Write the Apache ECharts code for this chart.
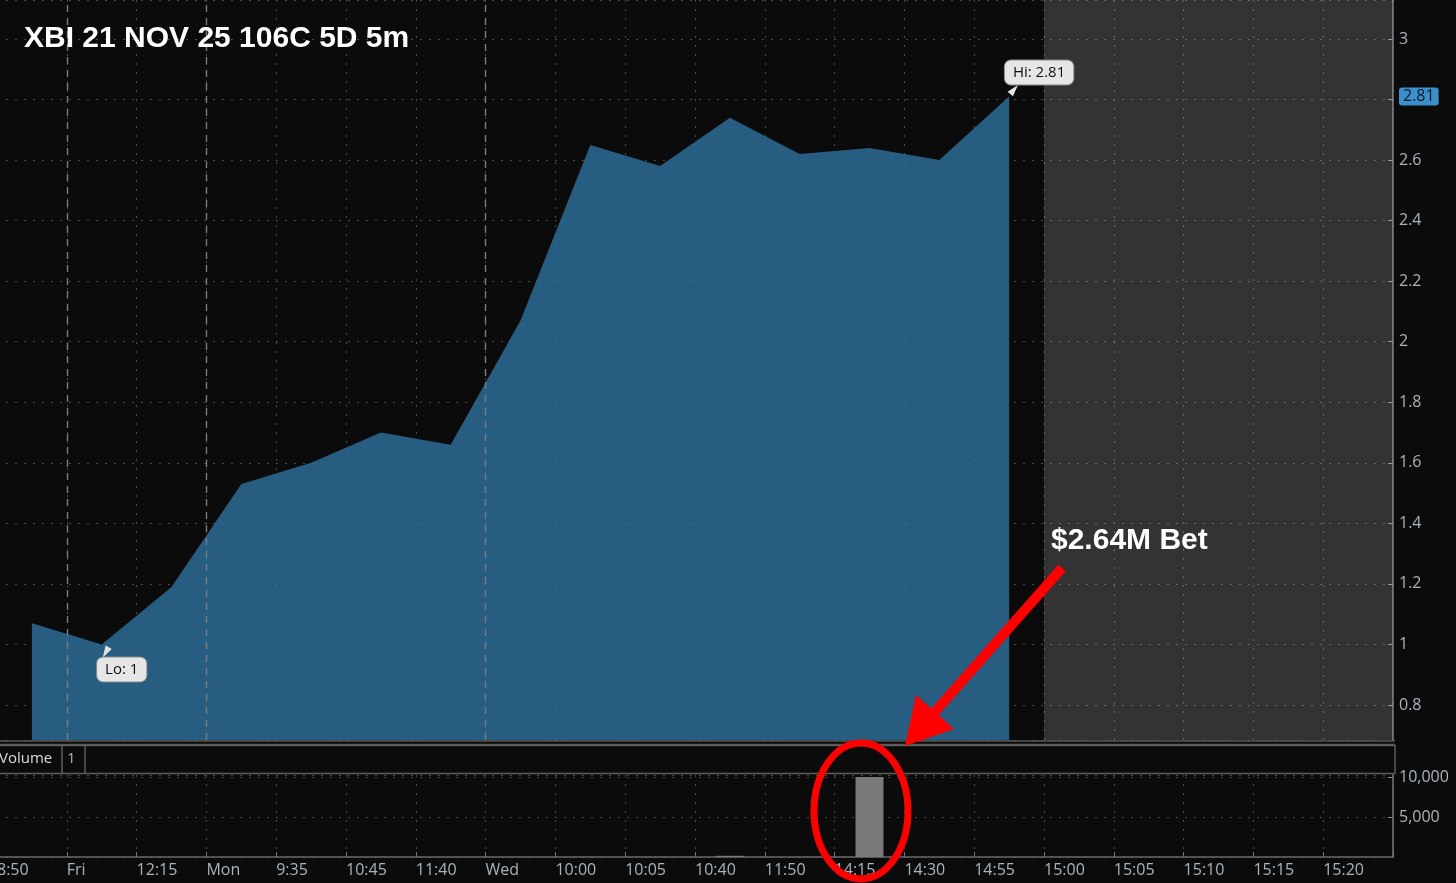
<!DOCTYPE html>
<html>
<head>
<meta charset="utf-8">
<script src="https://cdn.jsdelivr.net/npm/echarts@6/dist/echarts.min.js"></script>
<style>
html,body{margin:0;padding:0;background:#0b0b0b;}
#c{width:1456px;height:883px;}
</style>
</head>
<body>
<div id="c"></div>
<script>
// ---- data ----
const tickLabels = ["8:50","Fri","12:15","Mon","9:35","10:45","11:40","Wed","10:00","10:05","10:40","11:50","14:15","14:30","14:55","15:00","15:05","15:10","15:15","15:20",""];
const barSlots = tickLabels.slice(0, 20);
const priceValues = [1.07, 1.00, 1.19, 1.53, 1.60, 1.70, 1.66, 2.07, 2.65, 2.58, 2.74, 2.62, 2.64, 2.60, 2.81];
const volumeValues = [0, 0, 0, 0, 0, 0, 0, 0, 0, 0, 150, 0, 10000, 0, 0];
const daySeparators = ["Fri", "Mon", "Wed"];
const futureStart = "15:00";
const lastPrice = 2.81;
const priceTicks = { min: 0.6845, max: 3.1287 };
const volumeTicks = { min: 0, max: 10250, interval: 5000 };

const labelColor = '#a9b4bc';
const gridDot = '#4a4a4a';
const font = 'Open Sans';

const chart = echarts.init(document.getElementById('c'), null, {renderer: 'canvas'});

const option = {
  backgroundColor: '#0b0b0b',
  animation: false,
  title: [
    { text: 'XBI 21 NOV 25 106C 5D 5m', left: 19, top: 19,
      textStyle: { color: '#ffffff', fontSize: 30, fontWeight: 'bold', fontFamily: 'Liberation Sans' } },
    { text: '$2.64M Bet', left: 1046, top: 521,
      textStyle: { color: '#ffffff', fontSize: 30, fontWeight: 'bold', fontFamily: 'Liberation Sans' } }
  ],
  grid: [
    { left: -3, right: 63, top: 0, height: 740, outerBoundsMode: 'none', containLabel: false },
    { left: -3, right: 63, top: 775, height: 82, outerBoundsMode: 'none', containLabel: false }
  ],
  xAxis: [
    { type: 'category', gridIndex: 0, position: 'bottom', data: barSlots, boundaryGap: true, show: false },
    { type: 'category', gridIndex: 0, position: 'bottom', data: tickLabels, boundaryGap: false,
      axisLine: { show: false }, axisTick: { show: false }, axisLabel: { show: false },
      splitLine: { show: true, interval: 0, lineStyle: { color: gridDot, type: [2, 7], width: 1 } } },
    { type: 'category', gridIndex: 1, position: 'bottom', data: barSlots, boundaryGap: true, show: false },
    { type: 'category', gridIndex: 1, position: 'bottom', data: tickLabels, boundaryGap: false,
      axisLine: { show: true, lineStyle: { color: '#6a6a6a', width: 1.5 } },
      axisTick: { show: true, inside: true, length: 5, interval: 0, lineStyle: { color: '#777' } },
      axisLabel: { show: true, interval: 0, align: 'left', color: labelColor, fontSize: 16, fontFamily: font, margin: 5,
                   showMinLabel: true, showMaxLabel: true, hideOverlap: false },
      splitLine: { show: true, interval: 0, lineStyle: { color: gridDot, type: [2, 7], width: 1 } } }
  ],
  yAxis: [
    { type: 'value', gridIndex: 0, position: 'right', min: priceTicks.min, max: priceTicks.max, splitNumber: 12,
      axisLine: { show: true, lineStyle: { color: '#7a7a7a', width: 1.5 } },
      axisTick: { show: true, inside: true, length: 5, lineStyle: { color: '#888' } },
      axisLabel: { color: labelColor, fontSize: 16, fontFamily: font, margin: 6, showMinLabel: false, showMaxLabel: false },
      splitLine: { show: true, lineStyle: { color: gridDot, type: [2, 7], width: 1 } } },
    { type: 'value', gridIndex: 1, position: 'right', min: volumeTicks.min, max: volumeTicks.max, interval: volumeTicks.interval,
      axisLine: { show: true, lineStyle: { color: '#7a7a7a', width: 1.5 } },
      axisTick: { show: true, inside: true, length: 5, lineStyle: { color: '#888' } },
      axisLabel: { color: labelColor, fontSize: 16, fontFamily: font, margin: 6, showMaxLabel: false, showMinLabel: false,
                   formatter: v => v.toLocaleString('en-US') },
      splitLine: { show: true, lineStyle: { color: gridDot, type: [2, 7], width: 1 } } }
  ],
  series: [
    { type: 'line', name: 'frame', xAxisIndex: 1, yAxisIndex: 0, data: tickLabels.map(() => null), silent: true, z: 1,
      markArea: { silent: true, itemStyle: { color: 'rgba(255,255,255,0.165)' },
                  data: [[{ xAxis: futureStart }, { xAxis: tickLabels.length - 1 }]] },
      markLine: { silent: true, symbol: 'none', label: { show: false },
                  lineStyle: { color: '#7c7c7c', type: [7, 6], width: 1.4 },
                  data: daySeparators.map(d => ({ xAxis: d })) } },
    { type: 'line', name: 'price', xAxisIndex: 0, yAxisIndex: 0, data: priceValues, z: 2,
      symbol: 'none', lineStyle: { width: 0, color: 'rgba(45,111,154,0.82)' },
      areaStyle: { color: 'rgba(45,111,154,0.82)', origin: 'start', opacity: 1 },
      markLine: { silent: true, symbol: 'none',
                  lineStyle: { width: 0, color: 'rgba(0,0,0,0)' },
                  label: { show: true, position: 'end', distance: 6, formatter: String(lastPrice),
                           backgroundColor: '#3b8fca', color: '#0c1a26', fontSize: 16, fontFamily: font,
                           padding: [0, 4, 0, 4], borderRadius: 3, lineHeight: 18 },
                  data: [{ yAxis: lastPrice }] },
      markPoint: { silent: true,
        data: [
          { type: 'max', symbol: 'triangle', symbolSize: [7, 12], symbolRotate: -40, symbolOffset: [5, -7],
            itemStyle: { color: '#e4e4e4' },
            label: { show: true, formatter: p => 'Hi: ' + p.value, offset: [25, -17], position: 'inside',
                     backgroundColor: '#e6e6e6', borderColor: '#8a8a8a', borderWidth: 1, borderRadius: 6,
                     padding: [5, 8, 4, 8], color: '#111', fontSize: 15, fontFamily: font } },
          { type: 'min', symbol: 'triangle', symbolSize: [7, 12], symbolRotate: 150, symbolOffset: [4, 8],
            itemStyle: { color: '#e4e4e4' },
            label: { show: true, formatter: p => 'Lo: ' + p.value, offset: [16, 17], position: 'inside',
                     backgroundColor: '#e6e6e6', borderColor: '#8a8a8a', borderWidth: 1, borderRadius: 6,
                     padding: [5, 8, 4, 8], color: '#111', fontSize: 15, fontFamily: font } }
        ] } },
    { type: 'bar', name: 'volume', xAxisIndex: 2, yAxisIndex: 1, data: volumeValues, barWidth: 28,
      itemStyle: { color: '#7a7a7a', borderWidth: 0 } }
  ],
  graphic: [
    { type: 'line', shape: { x1: 0, y1: 741, x2: 1395, y2: 741 }, style: { stroke: '#5a5a5a', lineWidth: 1.5 }, z: 50 },
    { type: 'line', shape: { x1: 0, y1: 744.5, x2: 1395, y2: 744.5 }, style: { stroke: '#5a5a5a', lineWidth: 1.5 }, z: 50 },
    { type: 'rect', shape: { x: -2, y: 745.5, width: 1397, height: 28 }, style: { fill: '#0b0b0b', stroke: '#5e5e5e', lineWidth: 1.5 }, z: 50 },
    { type: 'line', shape: { x1: 62, y1: 746, x2: 62, y2: 773 }, style: { stroke: '#5e5e5e', lineWidth: 1.5 }, z: 51 },
    { type: 'line', shape: { x1: 85, y1: 746, x2: 85, y2: 773 }, style: { stroke: '#5e5e5e', lineWidth: 1.5 }, z: 51 },
    { type: 'text', x: -1, y: 759, style: { text: 'Volume', fill: '#dcdcdc', font: '15px "Open Sans"', textVerticalAlign: 'middle' }, z: 52 },
    { type: 'text', x: 67, y: 759, style: { text: '1', fill: '#b0b0b0', font: '15px "Open Sans"', textVerticalAlign: 'middle' }, z: 52 },
    // red annotations
    { type: 'ellipse', shape: { cx: 861, cy: 811, rx: 47, ry: 68 }, style: { fill: 'none', stroke: '#ff0000', lineWidth: 7 }, z: 60 },
    { type: 'line', shape: { x1: 1062, y1: 568, x2: 933, y2: 714 }, style: { stroke: '#ff0000', lineWidth: 10 }, z: 60 },
    { type: 'polygon', shape: { points: [[905, 746], [954, 729], [916, 695]] }, style: { fill: '#ff0000' }, z: 60 }
  ]
};
chart.setOption(option);
</script>
</body>
</html>
